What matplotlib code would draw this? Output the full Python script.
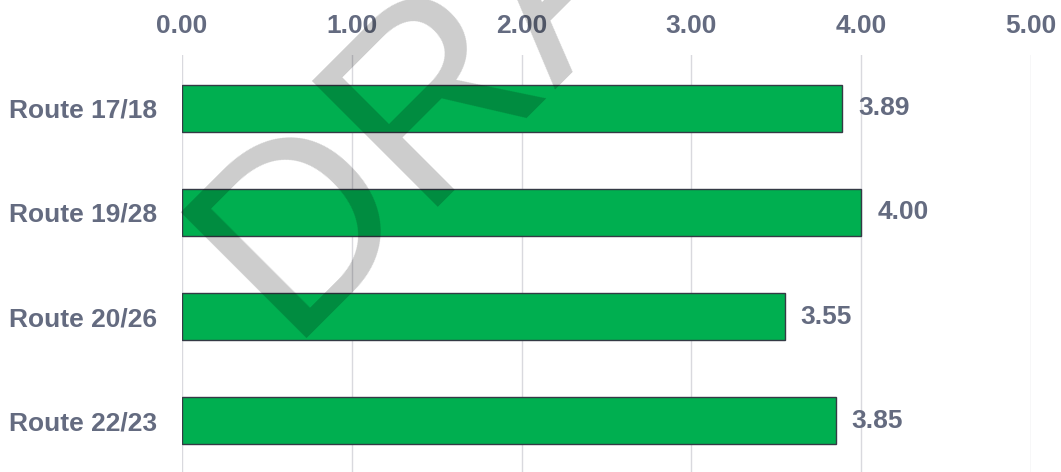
import matplotlib.pyplot as plt

# route scores
routes = ['Route 17/18', 'Route 19/28', 'Route 20/26', 'Route 22/23']
scores = [3.89, 4.00, 3.55, 3.85]
x_ticks = [0, 1, 2, 3, 4, 5]

txt_color = '#646b80'
bar_green = '#00af50'

plt.rcParams['font.family'] = ['Liberation Sans', 'DejaVu Sans']

fig = plt.figure(figsize=(10.61, 4.72), dpi=100)
ax = fig.add_axes([0.1715, 0.0, 0.8002, 0.8835])

ax.barh(range(len(routes)), scores, height=0.45, color=bar_green,
        edgecolor='#343a45', linewidth=1.0, zorder=3)

for i, v in enumerate(scores):
    ax.annotate('%.2f' % v, xy=(v, i), xytext=(16, 0), textcoords='offset pixels',
                ha='left', va='center', fontsize=19, fontweight='bold',
                color=txt_color, zorder=4)

ax.set_xlim(0, 5)
ax.set_ylim(3.49, -0.51)
ax.set_xticks(x_ticks)
ax.set_xticklabels(['%.2f' % t for t in x_ticks])
ax.set_yticks(range(len(routes)))
ax.set_yticklabels(routes)

ax.xaxis.tick_top()
ax.tick_params(axis='x', length=0, pad=12, labelsize=19, labelcolor=txt_color)
ax.tick_params(axis='y', length=0, pad=18, labelsize=19, labelcolor=txt_color)
for lbl in ax.get_xticklabels() + ax.get_yticklabels():
    lbl.set_fontweight('bold')

ax.grid(axis='x', color='#d9d9de', linewidth=1.0, zorder=0)
for s in ax.spines.values():
    s.set_visible(False)

# watermark
fig.text(0.269, 0.283, 'DRAFT', fontsize=186, color='black', alpha=0.2,
         rotation=45, rotation_mode='anchor', ha='left', va='baseline', zorder=10)

fig.savefig('out.png', dpi=100)
